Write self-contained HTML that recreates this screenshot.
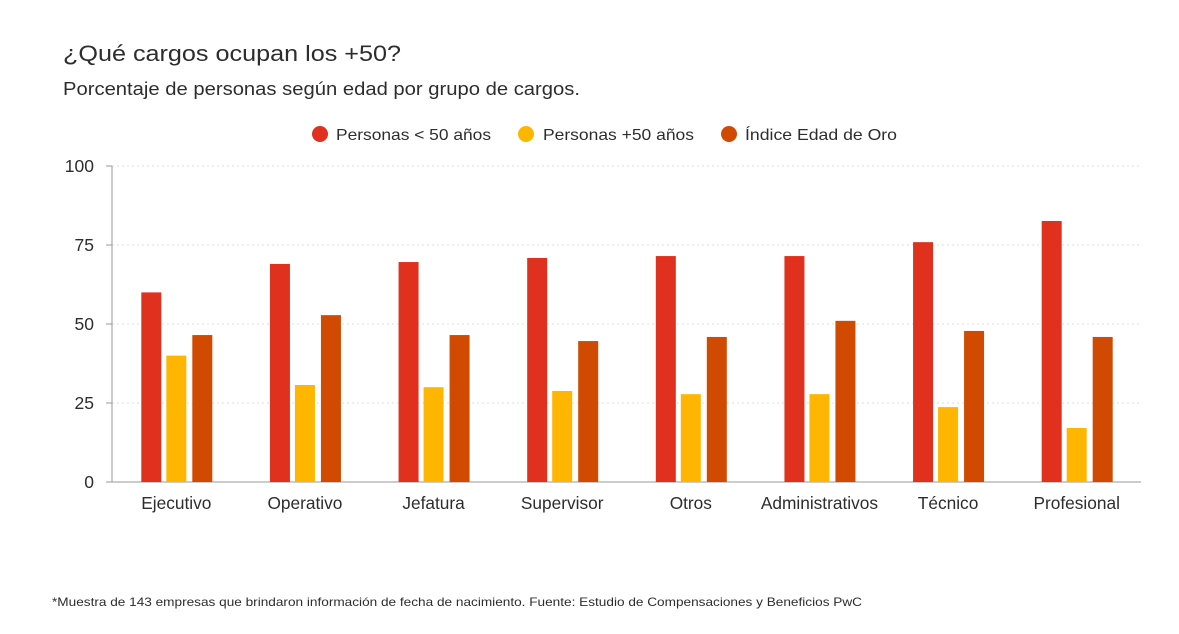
<!DOCTYPE html>
<html><head><meta charset="utf-8">
<style>
body{margin:0;background:#fff;font-family:"Liberation Sans",sans-serif;}
#wrap{position:relative;width:1179px;height:634px;overflow:hidden;}
</style></head>
<body>
<div id="wrap">
<svg id="chart" width="1179" height="634" font-family="Liberation Sans, sans-serif">
<text x="63" y="61" font-size="22" fill="#2d2d2d" textLength="338" lengthAdjust="spacingAndGlyphs">¿Qué cargos ocupan los +50?</text>
<text x="63" y="95" font-size="18" fill="#2d2d2d" textLength="517" lengthAdjust="spacingAndGlyphs">Porcentaje de personas según edad por grupo de cargos.</text>
<g>
<g><circle cx="320" cy="134" r="8" fill="#e0301e"/><text x="336" y="140" font-size="16" fill="#2d2d2d" textLength="155" lengthAdjust="spacingAndGlyphs">Personas &lt; 50 años</text></g>
<g><circle cx="526" cy="134" r="8" fill="#ffb600"/><text x="543" y="140" font-size="16" fill="#2d2d2d" textLength="151" lengthAdjust="spacingAndGlyphs">Personas +50 años</text></g>
<g><circle cx="729" cy="134" r="8" fill="#d04a02"/><text x="745" y="140" font-size="16" fill="#2d2d2d" textLength="152" lengthAdjust="spacingAndGlyphs">Índice Edad de Oro</text></g>
</g>
<g id="grid"></g>
<g id="bars"></g>
<g id="xlabels"></g>
<text x="52" y="606" font-size="12" fill="#2d2d2d" textLength="810" lengthAdjust="spacingAndGlyphs">*Muestra de 143 empresas que brindaron información de fecha de nacimiento. Fuente: Estudio de Compensaciones y Beneficios PwC</text>
</svg>
</div>
<script>
const categories=["Ejecutivo","Operativo","Jefatura","Supervisor","Otros","Administrativos","Técnico","Profesional"];
const under50=[60,69,69.6,70.9,71.5,71.5,75.9,82.6];
const over50=[40,30.7,30,28.8,27.8,27.8,23.7,17.1];
const indice=[46.5,52.8,46.5,44.6,45.9,51,47.8,45.9];
const yTicks=[0,25,50,75,100];
const NS="http://www.w3.org/2000/svg";
const x0=112,x1=1141,yBase=482,yTop=166;
const band=(x1-x0)/categories.length;
function y(v){return yBase-(v/100)*(yBase-yTop);}
function xc(i){return x0+band*(i+0.5);}
const grid=document.getElementById('grid');
yTicks.forEach(t=>{
 const l=document.createElementNS(NS,'line');
 l.setAttribute('x1',x0);l.setAttribute('x2',x1);l.setAttribute('y1',y(t));l.setAttribute('y2',y(t));
 l.setAttribute('stroke',t===0?'#999':'#ddd');
 if(t!==0)l.setAttribute('stroke-dasharray','2,3');
 
 
 grid.appendChild(l);
 const tk=document.createElementNS(NS,'line');
 tk.setAttribute('x1',x0-6);tk.setAttribute('x2',x0);tk.setAttribute('y1',y(t));tk.setAttribute('y2',y(t));tk.setAttribute('stroke','#999');
 grid.appendChild(tk);
 const tx=document.createElementNS(NS,'text');
 tx.setAttribute('x',x0-18);tx.setAttribute('y',y(t)+6);tx.setAttribute('text-anchor','end');
 tx.setAttribute('font-size','17.5');tx.setAttribute('fill','#2d2d2d');tx.textContent=t;
 
 
 grid.appendChild(tx);
});
const ax=document.createElementNS(NS,'line');
ax.setAttribute('x1',x0);ax.setAttribute('x2',x0);ax.setAttribute('y1',yTop);ax.setAttribute('y2',yBase);ax.setAttribute('stroke','#999');


grid.appendChild(ax);
const bars=document.getElementById('bars');
const series=[[under50,'#e0301e',-25,'under-50'],[over50,'#ffb600',0,'over-50'],[indice,'#d04a02',26,'indice']];
categories.forEach((c,i)=>{
 series.forEach(s=>{
  const r=document.createElementNS(NS,'rect');
  const v=s[0][i];
  r.setAttribute('x',xc(i)+s[2]-10);r.setAttribute('width',20);
  r.setAttribute('y',y(v));r.setAttribute('height',yBase-y(v));r.setAttribute('fill',s[1]);
  
  
  bars.appendChild(r);
 });
 const t=document.createElementNS(NS,'text');
 t.setAttribute('x',xc(i));t.setAttribute('y',509);t.setAttribute('text-anchor','middle');
 t.setAttribute('font-size','17.3');t.setAttribute('fill','#2d2d2d');t.textContent=c;
 
 
 document.getElementById('xlabels').appendChild(t);
});
</script>
</body></html>
